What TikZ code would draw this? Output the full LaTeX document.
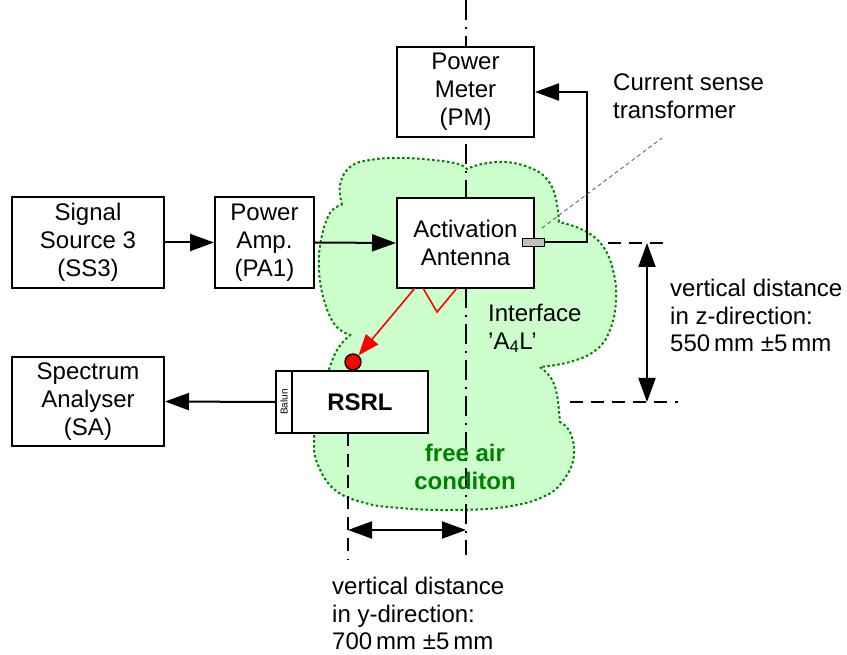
\documentclass[tikz,border=0pt]{standalone}
\usepackage{fontspec}
\setmainfont{Liberation Sans}
\usetikzlibrary{arrows.meta}
\definecolor{cloudfill}{HTML}{CCFFCC}
\definecolor{cloudline}{HTML}{008000}
\definecolor{ctgray}{HTML}{BFBFBF}
\begin{document}
\begin{tikzpicture}[x=1pt,y=-1pt,
  box/.style={draw, line width=2pt, fill=white, align=center, inner sep=0pt,
    font=\fontsize{24}{28}\selectfont},
  lbl/.style={align=left, inner sep=0pt, anchor=north west, font=\fontsize{24}{27.5}\selectfont},
  conn/.style={line width=2pt, -{Triangle[length=24pt,width=17pt]}},
  dimarrow/.style={line width=2pt, {Triangle[length=24pt,width=17pt]}-{Triangle[length=24pt,width=17pt]}},
  guide/.style={line width=1.8pt, dash pattern=on 13pt off 8pt},
  centerline/.style={line width=1.8pt, dash pattern=on 20pt off 7pt on 2pt off 7pt},
  redline/.style={red, line width=1.6pt}
]
\useasboundingbox (0,0) rectangle (847,655);

% cloud (free air region)
\path[fill=cloudfill, draw=cloudline, line width=2pt, dash pattern=on 2.5pt off 2.5pt]
 plot[smooth, tension=0.7] coordinates {(342,205) (340,185) (350,167) (370,160) (400,158) (433,160) (458,164) (467,169)}
 -- plot[smooth, tension=0.7] coordinates {(467,169) (482,164) (505,162) (528,167) (545,177) (555,195) (559,222)}
 -- plot[smooth, tension=0.7] coordinates {(559,222) (583,230) (602,245) (613,270) (616,300) (610,330) (596,350) (570,362) (540,367)}
 -- plot[smooth, tension=0.7] coordinates {(540,367) (551,378) (557,395) (560,422)}
 -- plot[smooth, tension=0.7] coordinates {(560,422) (570,432) (574,455) (565,478) (545,496) (505,507) (450,510) (400,508) (365,503) (335,490) (318,465) (314,440) (318,400) (327,375) (337,350) (350,335)}
 -- plot[smooth, tension=0.7] coordinates {(350,335) (335,325) (324,300) (319,270) (321,240) (330,213) (342,205)}
 -- cycle;

% centre line
\coordinate (cltop) at (466,0);
\coordinate (clbot) at (466,555);
\draw[centerline] (cltop) -- (clbot);

% guide lines
\coordinate (gy1) at (348,433);
\coordinate (gy2) at (348,560);
\draw[guide] (gy1) -- (gy2);
\coordinate (gz1a) at (608,243);
\coordinate (gz1b) at (670,243);
\draw[guide] (gz1a) -- (gz1b);
\coordinate (gz2a) at (570,402);
\coordinate (gz2b) at (678,402);
\draw[guide] (gz2a) -- (gz2b);

% boxes
\node[box, minimum width=152pt, minimum height=91pt] (ss) at (88,242.5) {Signal\\Source 3\\(SS3)};
\node[box, minimum width=99pt, minimum height=91pt] (pa) at (264.5,242.5) {Power\\Amp.\\(PA1)};
\node[box, minimum width=137pt, minimum height=90pt] (aa) at (465.5,243) {Activation\\Antenna};
\node[box, minimum width=137pt, minimum height=90pt] (pm) at (465.5,92) {Power\\Meter\\(PM)};
\node[box, minimum width=152pt, minimum height=89pt] (sa) at (88,401.5) {Spectrum\\Analyser\\(SA)};
\node[box, minimum width=136pt, minimum height=62pt, font=\fontsize{24}{28}\selectfont\bfseries] (rsrl) at (360,402) {RSRL};
\node[box, minimum width=16pt, minimum height=62pt] (balun) at (284,402) {};
\node[rotate=90, inner sep=0pt, font=\fontsize{10}{12}\selectfont] (baluntxt) at (284,402) {Balun};

% current sense transformer
\node[draw, fill=ctgray, line width=1pt, minimum width=22pt, minimum height=8pt, inner sep=0pt] (ct) at (533.5,242.5) {};

% connectors
\draw[conn] (ss.east) -- (pa.west);
\draw[conn] (pa.east) -- (aa.west);
\draw[conn] (balun.west) -- (sa.east);
\coordinate (fb) at (587,242.5);
\draw[conn] (ct.east) -- (fb) |- (pm.east);

% leader for current sense transformer
\coordinate (ld1) at (542,228);
\coordinate (ld2) at (662,138);
\draw[black!60, line width=0.9pt, dash pattern=on 4pt off 3pt] (ld1) -- (ld2);

% dimension arrows
\coordinate (dy1) at (348,530);
\coordinate (dy2) at (466,530);
\draw[dimarrow] (dy1) -- (dy2);
\coordinate (dz1) at (647,243);
\coordinate (dz2) at (647,402);
\draw[dimarrow] (dz1) -- (dz2);

% red arrow and marker
\node[circle, draw, fill=red, line width=1.4pt, minimum size=16pt, inner sep=0pt] (rc) at (353,362) {};
\coordinate (ra) at (415,288);
\draw[redline, -{Triangle[length=21pt,width=16pt]}] (ra) -- (rc);
\coordinate (rm1) at (423,288);
\coordinate (rm2) at (437,312);
\coordinate (rm3) at (457,288);
\draw[redline] (rm1) -- (rm2) -- (rm3);

% labels
\node[lbl, font=\fontsize{24}{28}\selectfont] (ctl) at (613,74) {Current sense\\transformer};
\node[lbl] (ifc) at (488,304) {Interface\\'A\textsubscript{4}L'};
\node[lbl] (zl) at (670,279) {vertical distance\\in z-direction:\\550\,mm ±5\,mm};
\node[lbl] (yl) at (332,577) {vertical distance\\in y-direction:\\700\,mm ±5\,mm};
\node[align=center, inner sep=0pt, anchor=north, text=cloudline, font=\fontsize{24}{28}\selectfont\bfseries] (fa) at (465,444) {free air\\conditon};
\end{tikzpicture}
\end{document}
